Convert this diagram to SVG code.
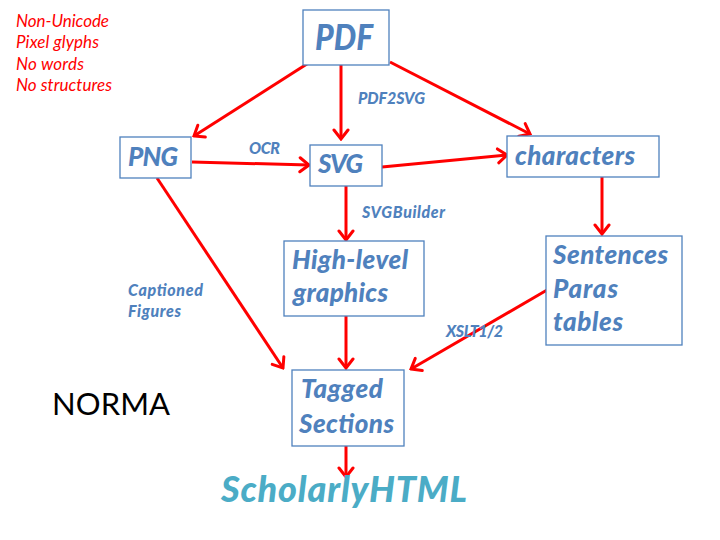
<svg xmlns="http://www.w3.org/2000/svg" width="720" height="540" viewBox="0 0 720 540">
  <style>
    .box { fill: #FFFFFF; stroke: #4F81BD; stroke-width: 1.3; }
    .node { font-family: Lato, "Open Sans", "Liberation Sans", sans-serif; font-weight: 900; font-style: italic; fill: #4F81BD; font-size: 26px; }
    .lbl { font-family: Lato, "Open Sans", "Liberation Sans", sans-serif; font-weight: 900; font-style: italic; fill: #4F81BD; font-size: 16px; }
    .note { font-family: Lato, "Open Sans", "Liberation Sans", sans-serif; font-style: italic; fill: #FF0000; font-size: 17px; }
    .edge { stroke: #FF0000; stroke-width: 3; fill: none; marker-end: url(#head); }
  </style>
  <defs>
    <marker id="head" markerUnits="userSpaceOnUse" viewBox="-12 -9 14 18" markerWidth="14" markerHeight="18" refX="0" refY="0" orient="auto">
      <path d="M-9,-7 L0,0 L-9,7" fill="none" stroke="#FF0000" stroke-width="3" stroke-linecap="round" stroke-linejoin="miter"/>
    </marker>
  </defs>

  <!-- side notes -->
  <g id="notes">
    <text class="note" x="16" y="27" textLength="93">Non-Unicode</text>
    <text class="note" x="16" y="48" textLength="83">Pixel glyphs</text>
    <text class="note" x="16" y="70" textLength="68">No words</text>
    <text class="note" x="16" y="91" textLength="96">No structures</text>
  </g>
  <text x="52" y="415" font-family="Lato, 'Open Sans', 'Liberation Sans', sans-serif" font-size="31" fill="#000000" textLength="118">NORMA</text>

  <!-- connectors -->
  <g id="connectors">
    <line class="edge" x1="310" y1="62" x2="194" y2="136"/>
    <line class="edge" x1="341" y1="62" x2="341" y2="139"/>
    <line class="edge" x1="390" y1="62" x2="530" y2="134"/>
    <line class="edge" x1="192" y1="162" x2="309" y2="165"/>
    <line class="edge" x1="382" y1="167" x2="507" y2="155"/>
    <line class="edge" x1="602" y1="177" x2="602" y2="234"/>
    <line class="edge" x1="346" y1="186" x2="346" y2="240"/>
    <line class="edge" x1="157" y1="178" x2="283" y2="368"/>
    <line class="edge" x1="346" y1="316" x2="346" y2="368"/>
    <line class="edge" x1="547" y1="290" x2="411" y2="369"/>
    <line class="edge" x1="346" y1="446" x2="346" y2="477"/>
    <text class="lbl" x="358" y="104" textLength="67">PDF2SVG</text>
    <text class="lbl" x="249" y="154" textLength="31">OCR</text>
    <text class="lbl" x="362" y="218" textLength="83">SVGBuilder</text>
    <text class="lbl" x="128" y="296" textLength="75">Captioned</text>
    <text class="lbl" x="128" y="317" textLength="53">Figures</text>
    <text class="lbl" x="446" y="337" textLength="57">XSLT1/2</text>
  </g>

  <g id="pdf">
    <rect class="box" x="303" y="10" width="86" height="55"/>
    <text class="node" x="315" y="50" style="font-size:36px" textLength="58" lengthAdjust="spacingAndGlyphs">PDF</text>
  </g>
  <g id="png">
    <rect class="box" x="120" y="137" width="71" height="41"/>
    <text class="node" x="128" y="166" textLength="50">PNG</text>
  </g>
  <g id="svg">
    <rect class="box" x="310" y="145" width="72" height="41"/>
    <text class="node" x="318" y="173" textLength="45">SVG</text>
  </g>
  <g id="characters">
    <rect class="box" x="507" y="136" width="152" height="41"/>
    <text class="node" x="515" y="165" textLength="120">characters</text>
  </g>
  <g id="highlevel">
    <rect class="box" x="284" y="241" width="140" height="75"/>
    <text class="node" x="292" y="269" textLength="116">High-level</text>
    <text class="node" x="293" y="302" textLength="95">graphics</text>
  </g>
  <g id="sentences">
    <rect class="box" x="546" y="236" width="136" height="109"/>
    <text class="node" x="553" y="264" textLength="115">Sentences</text>
    <text class="node" x="553" y="298" textLength="65">Paras</text>
    <text class="node" x="553" y="331" textLength="70">tables</text>
  </g>
  <g id="tagged">
    <rect class="box" x="292" y="370" width="112" height="76"/>
    <text class="node" x="301" y="398" textLength="82">Tagged</text>
    <text class="node" x="299" y="433" textLength="95">Sections</text>
  </g>
  <g id="scholarlyhtml">
    <text class="node" x="221" y="502" style="font-size:36px;fill:#4BACC6" textLength="246">ScholarlyHTML</text>
  </g>
</svg>
